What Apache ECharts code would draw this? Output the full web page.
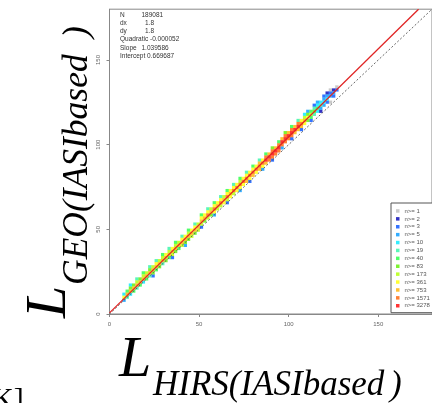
<!DOCTYPE html>
<html>
<head>
<meta charset="utf-8">
<script src="https://cdn.jsdelivr.net/npm/echarts@6/dist/echarts.min.js"></script>
<style>
  html, body { margin: 0; padding: 0; background: #fff; }
  #chart { width: 432px; height: 403px; }
</style>
</head>
<body>
<div id="chart"></div>
<script>
// count classes of the 1.8 x 1.8 bins
const classLabels = ['n>= 1', 'n>= 2', 'n>= 3', 'n>= 5', 'n>= 10', 'n>= 19', 'n>= 40',
  'n>= 83', 'n>= 173', 'n>= 361', 'n>= 753', 'n>= 1571', 'n>= 3278'];
const classColors = ['#bdbdbd', '#0000b4', '#0050ff', '#0099ff', '#00e8ff', '#30f4a8', '#22ff44',
  '#5cf000', '#b0ff00', '#ffff00', '#ffb000', '#ff6000', '#ff0000'];

// bin columns: x centre, y centre of lowest bin, class code of each bin going up ('.' = empty)
const colX = [8.1, 9.9, 11.7, 13.5, 15.3, 17.1, 18.9, 20.7, 22.5, 24.3,
  26.1, 27.9, 29.7, 31.5, 33.3, 35.1, 36.9, 38.7, 40.5, 42.3,
  44.1, 45.9, 47.7, 49.5, 51.3, 53.1, 54.9, 56.7, 58.5, 60.3,
  62.1, 63.9, 65.7, 67.5, 69.3, 71.1, 72.9, 74.7, 76.5, 78.3,
  80.1, 81.9, 83.7, 85.5, 87.3, 89.1, 90.9, 92.7, 94.5, 96.3,
  98.1, 99.9, 101.7, 103.5, 105.3, 107.1, 108.9, 110.7, 112.5, 114.3,
  116.1, 117.9, 119.7, 121.5, 123.3, 125.1, 126.9];
const colYLow = [6.3, 8.1, 9.9, 11.7, 13.5, 15.3, 17.1, 18.9, 20.7, 22.5,
  24.3, 26.1, 27.9, 29.7, 31.5, 33.3, 35.1, 36.9, 38.7, 40.5,
  42.3, 44.1, 45.9, 47.7, 51.3, 53.1, 54.9, 56.7, 58.5, 60.3,
  62.1, 63.9, 65.7, 67.5, 69.3, 71.1, 72.9, 74.7, 76.5, 78.3,
  80.1, 81.9, 83.7, 85.5, 87.3, 89.1, 90.9, 92.7, 94.5, 98.1,
  99.9, 101.7, 103.5, 105.3, 107.1, 108.9, 110.7, 112.5, 114.3, 116.1,
  117.9, 119.7, 121.5, 123.3, 125.1, 126.9, 128.7];
const colCodes = ['.394', '.5a6', '.4a74', '.6a7', '.5a85', '.6a7', '.4a86', '.6a8', '.5a75', '27a8',
  '.6a95', '.7a8', '.5a86', '.7a9', '.6a85', '28a9', '.7a86', '.6a8', '.8a95', '37a9',
  '.7a86', '.8a9', '.7a95', '.8a8', '28a96', '.7a9', '.8b95', '.7a8', '39b96', '.8a9',
  '.8b95', '.9a8', '28b96', '.9a9', '.8b95', '.9b9', '39b86', '.9b9', '.ab95', '29b9',
  '.ab96', '.9b9', '.aba5', '39b9', '.acb6', '.bca', '2bcb7', '.bca', '.bcb6', '3bca',
  '.bcb7', '.bca', '2bcb6', '.aca', '.acb5', '2ab9', '.9a84', '.7973', '2686', '.5752',
  '.4643', '1354', '.3432', '.2431', '0.320', '.231', '..20'];
const binSize = 1.8;

// fitted line (intercept 0.669687, slope 1.039586) and 1:1 line
const fitLine = [[0, 0.67], [172.5, 180]];
const oneToOne = [[0, 0], [180, 180]];
const axisTicks = [0, 50, 100, 150];

const statLines = ['N', 'dx', 'dy', 'Quadratic -0.000052', 'Slope', 'Intercept 0.669687'];
const statValues = ['189081', '1.8', '1.8', '', '1.039586', ''];

// sort the bins into one list per class
const cells = classLabels.map(() => []);
colCodes.forEach((codes, i) => {
  for (let k = 0; k < codes.length; k++) {
    if (codes[k] === '.') continue;
    cells[parseInt(codes[k], 16)].push([colX[i], +(colYLow[i] + binSize * k).toFixed(2)]);
  }
});

const chart = echarts.init(document.getElementById('chart'));

const series = classLabels.map((name, c) => ({
  name: name,
  type: 'scatter',
  symbol: 'rect',
  symbolSize: [3.4, 3.2],
  itemStyle: { color: classColors[c] },
  data: cells[c],
  silent: true,
}));
series.push({
  type: 'line',
  data: oneToOne,
  symbol: 'none',
  z: 5,
  lineStyle: { color: '#555', width: 0.9, type: [2, 2] },
});
series.push({
  type: 'line',
  data: fitLine,
  symbol: 'none',
  z: 6,
  lineStyle: { color: '#e02424', width: 1.3 },
});

const small = { fontFamily: 'Liberation Sans', fontSize: 6.5, fill: '#333' };
const statText = [];
const valueX = [141.5, 145, 145, 0, 141.5, 0];
statLines.forEach((t, i) => {
  const y = 15 + i * 8.2;
  statText.push({ type: 'text', x: 120, y: y, style: Object.assign({ text: t, verticalAlign: 'middle' }, small) });
  if (statValues[i]) {
    statText.push({ type: 'text', x: valueX[i], y: y, style: Object.assign({ text: statValues[i], verticalAlign: 'middle' }, small) });
  }
});

const serif = { fontFamily: 'Liberation Serif', fontStyle: 'italic', fill: '#000', verticalAlign: 'middle' };

chart.setOption({
  animation: false,
  grid: {
    left: 109.5,
    top: 9.2,
    right: -2.5,
    bottom: 89,
    show: true,
    borderColor: '#888',
    borderWidth: 1,
  },
  xAxis: {
    type: 'value',
    min: 0,
    max: 180,
    interval: 50,
    axisLine: { show: true, lineStyle: { color: '#888' } },
    axisTick: { length: 3, customValues: axisTicks, lineStyle: { color: '#888' } },
    axisLabel: { customValues: axisTicks, fontSize: 6, color: '#666', margin: 7, fontFamily: 'Liberation Sans' },
    splitLine: { show: false },
  },
  yAxis: {
    type: 'value',
    min: 0,
    max: 180,
    interval: 50,
    axisLine: { show: true, lineStyle: { color: '#888' } },
    axisTick: { length: 3, customValues: axisTicks, lineStyle: { color: '#888' } },
    axisLabel: { customValues: axisTicks, rotate: 90, fontSize: 6, color: '#666', margin: 8, fontFamily: 'Liberation Sans' },
    splitLine: { show: false },
  },
  legend: {
    data: classLabels,
    orient: 'vertical',
    left: 391,
    top: 203,
    icon: 'rect',
    itemWidth: 3.5,
    itemHeight: 3.5,
    itemGap: 0,
    padding: [4, 6, 3, 5],
    borderColor: '#555',
    borderWidth: 1,
    backgroundColor: '#fff',
    selectedMode: false,
    textStyle: { fontSize: 6, color: '#555', lineHeight: 7.9, fontFamily: 'Liberation Sans' },
  },
  graphic: statText.concat([
    // x axis title
    { type: 'text', x: 119, y: 361, style: Object.assign({ text: 'L', fontSize: 58 }, serif) },
    { type: 'text', x: 153, y: 386, style: Object.assign({ text: 'HIRS(IASIbased', fontSize: 35 }, serif) },
    { type: 'text', x: 390, y: 386, style: Object.assign({ text: ')', fontSize: 35 }, serif) },
    // y axis title, rotated
    {
      type: 'group',
      x: 69,
      y: 318,
      rotation: Math.PI / 2,
      children: [
        { type: 'text', x: 0, y: -19, style: Object.assign({ text: 'L', fontSize: 58 }, serif) },
        { type: 'text', x: 33, y: 8.5, style: Object.assign({ text: 'GEO(IASIbased', fontSize: 35.5 }, serif) },
        { type: 'text', x: 280, y: 8.5, style: Object.assign({ text: ')', fontSize: 35.5 }, serif) },
      ],
    },
    // leftover of a neighbouring label
    { type: 'text', x: -8, y: 400, style: { text: 'K]', fontSize: 30, fontFamily: 'Liberation Serif', fill: '#000', verticalAlign: 'middle' } },
  ]),
  series: series,
});
</script>
</body>
</html>
